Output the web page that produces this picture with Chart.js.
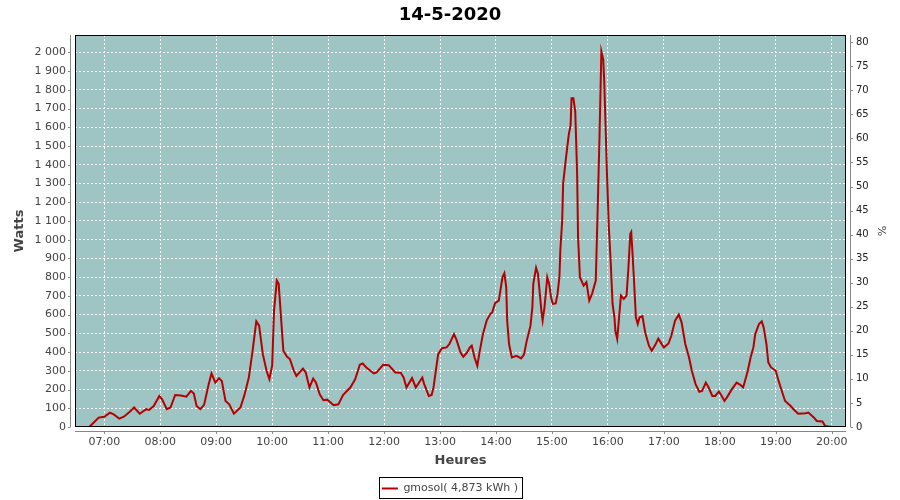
<!DOCTYPE html>
<html>
<head>
<meta charset="utf-8">
<script src="https://cdn.jsdelivr.net/npm/chart.js"></script>
<style>
html, body { margin: 0; padding: 0; background: #fff; }
</style>
</head>
<body>
<canvas id="myChart" width="900" height="500"></canvas>
<script>
// readings of the day (heure, watts)
const times = [
  '06:44','06:49','06:54','07:00','07:06','07:10','07:16','07:21','07:27','07:32',
  '07:38','07:45','07:48','07:53','07:59','08:02','08:07','08:11','08:16','08:22',
  '08:28','08:33','08:36','08:39','08:43','08:47','08:52','08:55','08:59','09:03',
  '09:06','09:10','09:14','09:19','09:26','09:30','09:35','09:39','09:43','09:46',
  '09:50','09:54','09:57','10:00','10:02','10:05','10:07','10:09','10:12','10:16',
  '10:19','10:23','10:26','10:33','10:36','10:40','10:44','10:47','10:51','10:55',
  '10:59','11:06','11:11','11:16','11:24','11:29','11:34','11:37','11:41','11:49',
  '11:52','11:59','12:05','12:12','12:18','12:21','12:24','12:30','12:34','12:41',
  '12:43','12:48','12:51','12:53','12:56','12:58','13:02','13:07','13:10','13:15',
  '13:18','13:22','13:25','13:29','13:32','13:34','13:37','13:40','13:42','13:46',
  '13:50','13:54','13:56','13:59','14:03','14:05','14:07','14:09','14:11','14:12',
  '14:14','14:17','14:22','14:27','14:30','14:33','14:37','14:39','14:40','14:43',
  '14:45','14:47','14:49','14:50','14:52','14:55','14:57','14:59','15:01','15:04',
  '15:06','15:08','15:09','15:11','15:12','15:15','15:18','15:20','15:21','15:23',
  '15:25','15:27','15:28','15:30','15:34','15:37','15:40','15:43','15:47','15:49',
  '15:51','15:53','15:55','15:56','15:57','15:59','16:01','16:03','16:05','16:07',
  '16:08','16:10','16:12','16:14','16:17','16:20','16:22','16:24','16:25','16:26',
  '16:28','16:30','16:32','16:34','16:37','16:40','16:44','16:47','16:51','16:54',
  '17:00','17:05','17:08','17:12','17:16','17:19','17:23','17:27','17:30','17:34',
  '17:38','17:41','17:45','17:48','17:52','17:55','17:59','18:01','18:05','18:08',
  '18:13','18:18','18:22','18:25','18:27','18:30','18:33','18:36','18:38','18:42',
  '18:45','18:47','18:50','18:52','18:55','19:00','19:03','19:07','19:10','19:16',
  '19:19','19:24','19:32','19:35','19:41','19:44','19:50','19:53','20:00'
];
const watts = [
  0, 25, 50, 55, 77, 68, 45, 55, 80, 104,
  71, 95, 91, 112, 166, 148, 95, 104, 171, 168,
  162, 193, 179, 112, 95, 118, 229, 286, 237, 261,
  246, 139, 121, 71, 104, 166, 264, 407, 564, 541,
  389, 300, 255, 327, 621, 782, 764, 621, 407, 375,
  363, 304, 273, 312, 291, 211, 259, 237, 175, 143,
  146, 116, 121, 171, 212, 255, 333, 339, 318, 286,
  291, 332, 330, 291, 289, 264, 211, 261, 211, 264,
  229, 166, 171, 211, 318, 389, 421, 425, 443, 496,
  461, 398, 375, 398, 425, 434, 371, 327, 389, 496,
  568, 604, 612, 661, 675, 737, 800, 821, 746, 568,
  443, 371, 380, 366, 386, 461, 541, 639, 764, 850,
  818, 711, 604, 568, 639, 800, 764, 693, 657, 660,
  711, 800, 943, 1104, 1300, 1434, 1559, 1612, 1755, 1755,
  1684, 1354, 1014, 800, 755, 773, 675, 711, 782, 1157,
  1550, 2005, 1961, 1854, 1693, 1354, 1068, 880, 657, 586,
  514, 470, 586, 702, 684, 702, 850, 1032, 1041, 961,
  782, 586, 550, 586, 592, 505, 434, 407, 440, 472,
  425, 446, 487, 568, 600, 559, 443, 371, 300, 229,
  188, 193, 237, 211, 166, 166, 189, 175, 139, 161,
  202, 237, 225, 211, 246, 300, 371, 425, 496, 550,
  564, 532, 443, 345, 318, 300, 246, 184, 139, 112,
  95, 71, 73, 77, 50, 32, 29, 5, 0
];
const hourTicks = ['07:00','08:00','09:00','10:00','11:00','12:00','13:00',
  '14:00','15:00','16:00','17:00','18:00','19:00','20:00'];
const wattTicks = [0,100,200,300,400,500,600,700,800,900,1000,
  1100,1200,1300,1400,1500,1600,1700,1800,1900,2000];
const percentTicks = [0,5,10,15,20,25,30,35,40,45,50,55,60,65,70,75,80];

const seriesName = 'gmosol( 4,873 kWh )';
const FONT = 'DejaVu Sans';

function toMin(s) {
  const p = s.split(':');
  return parseInt(p[0], 10) * 60 + parseInt(p[1], 10);
}
function fmtHour(v) {
  const h = Math.floor(v / 60), m = Math.round(v % 60);
  return String(h).padStart(2, '0') + ':' + String(m).padStart(2, '0');
}
function fmtWatts(v) {
  if (v < 1000) return String(v);
  return Math.floor(v / 1000) + ' ' + String(v % 1000).padStart(3, '0');
}

const points = times.map((t, i) => ({ x: toMin(t), y: watts[i] }));

// plot background, frame, offset axis lines and legend box (JFreeChart look)
const framePlugin = {
  id: 'frame',
  beforeDraw(chart) {
    const { ctx, chartArea: a } = chart;
    ctx.save();
    ctx.fillStyle = '#9EC4C3';
    ctx.fillRect(a.left, a.top, a.right - a.left, a.bottom - a.top);
    ctx.restore();
  },
  afterDraw(chart) {
    const { ctx, chartArea: a, scales } = chart;
    const L = Math.round(a.left), R = Math.round(a.right);
    const T = Math.round(a.top), B = Math.round(a.bottom);
    ctx.save();
    ctx.lineWidth = 1;
    ctx.strokeStyle = '#000';
    ctx.strokeRect(L + 0.5, T + 0.5, R - L - 1, B - T - 1);

    ctx.strokeStyle = '#888';
    ctx.beginPath();
    // left axis
    ctx.moveTo(L - 4.5, T); ctx.lineTo(L - 4.5, B);
    scales.y.ticks.forEach(t => {
      const py = Math.round(scales.y.getPixelForValue(t.value)) + 0.5;
      ctx.moveTo(L - 4.5, py); ctx.lineTo(L - 7, py);
    });
    // right axis
    ctx.moveTo(R + 4.5, T); ctx.lineTo(R + 4.5, B);
    scales.y1.ticks.forEach(t => {
      const py = Math.round(scales.y1.getPixelForValue(t.value)) + 0.5;
      ctx.moveTo(R + 4.5, py); ctx.lineTo(R + 7, py);
    });
    // bottom axis
    ctx.moveTo(L, B + 4.5); ctx.lineTo(R, B + 4.5);
    scales.x.ticks.forEach(t => {
      const px = Math.round(scales.x.getPixelForValue(t.value)) + 0.5;
      ctx.moveTo(px, B + 4.5); ctx.lineTo(px, B + 7);
    });
    ctx.stroke();

    const hb = chart.legend.legendHitBoxes[0];
    if (hb) {
      ctx.strokeStyle = '#000';
      ctx.strokeRect(Math.round(hb.left) - 2.5, Math.round(hb.top) - 5.5,
        Math.round(hb.width) + 7, Math.round(hb.height) + 10);
    }
    ctx.restore();
  }
};

const ctx = document.getElementById('myChart').getContext('2d');
const chart = new Chart(ctx, {
  type: 'line',
  data: {
    datasets: [{
      label: seriesName,
      data: points,
      borderColor: '#B40000',
      backgroundColor: '#B40000',
      borderWidth: 2,
      pointRadius: 0,
      pointStyle: 'line',
      tension: 0,
      yAxisID: 'y'
    }]
  },
  options: {
    responsive: false,
    animation: false,
    devicePixelRatio: 1,
    layout: { padding: { left: 0, right: 0, top: 0, bottom: -4 } },
    plugins: {
      title: {
        display: true,
        text: '14-5-2020',
        color: '#000',
        font: { family: FONT, size: 18, weight: 'bold' },
        padding: { top: 5, bottom: 8.4 }
      },
      legend: {
        position: 'bottom',
        labels: {
          usePointStyle: true,
          pointStyleWidth: 16,
          color: '#444',
          font: { family: FONT, size: 11 },
          padding: 8
        }
      },
      tooltip: { enabled: false }
    },
    scales: {
      x: {
        type: 'linear',
        min: 388.6,
        max: 1215.3,
        afterFit(scale) { scale.height = 48; },
        afterBuildTicks(scale) { scale.ticks = hourTicks.map(h => ({ value: toMin(h) })); },
        ticks: {
          autoSkip: false,
          maxRotation: 0,
          padding: 9,
          color: '#444',
          font: { family: FONT, size: 11 },
          callback: v => fmtHour(v)
        },
        grid: { color: '#fff', drawTicks: false, lineWidth: 1 },
        border: { display: false, dash: [2, 2] },
        title: {
          display: true, text: 'Heures', color: '#444',
          font: { family: FONT, size: 13, weight: 'bold' },
          padding: { top: 0, bottom: 7 }
        }
      },
      y: {
        position: 'left',
        min: 0,
        max: 2093,
        afterFit(scale) { scale.width = 75; },
        afterBuildTicks(scale) { scale.ticks = wattTicks.map(v => ({ value: v })); },
        ticks: {
          autoSkip: false,
          padding: 9,
          color: '#444',
          font: { family: FONT, size: 11 },
          callback: v => fmtWatts(v)
        },
        grid: { color: '#fff', drawTicks: false, lineWidth: 1 },
        border: { display: false, dash: [2, 2] },
        title: {
          display: true, text: 'Watts', color: '#444',
          font: { family: FONT, size: 13, weight: 'bold' },
          padding: { top: 12, bottom: 0 }
        }
      },
      y1: {
        position: 'right',
        min: 0,
        max: 81.5,
        afterFit(scale) { scale.width = 54; },
        afterBuildTicks(scale) { scale.ticks = percentTicks.map(v => ({ value: v })); },
        ticks: {
          autoSkip: false,
          padding: 10,
          color: '#222',
          font: { family: FONT, size: 10 }
        },
        grid: { display: false, drawTicks: false },
        border: { display: false },
        title: {
          display: true, text: '%', color: '#444',
          font: { family: FONT, size: 11 },
          padding: { top: 13, bottom: 0 }
        }
      }
    }
  },
  plugins: [framePlugin]
});
</script>
</body>
</html>
